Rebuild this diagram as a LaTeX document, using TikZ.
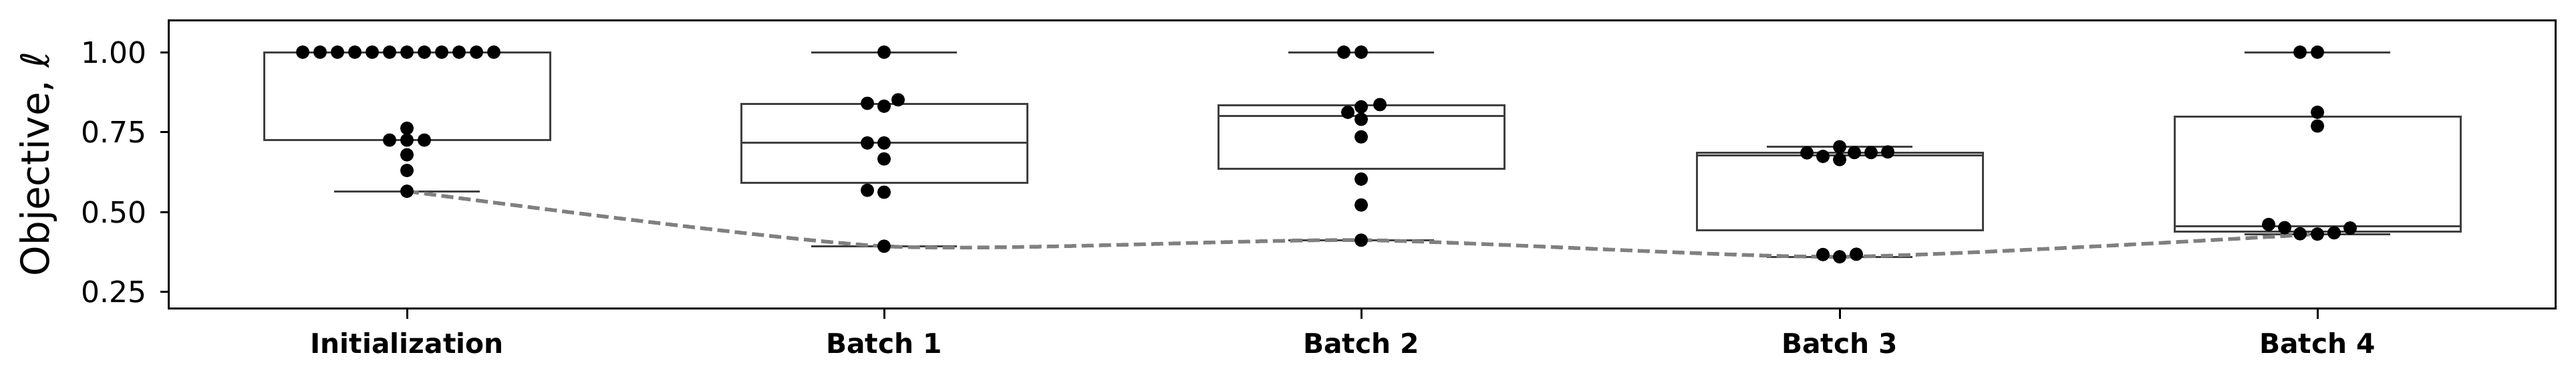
\documentclass[tikz,border=0pt]{standalone}
\usepackage{fontspec}
\setmainfont{DejaVu Sans}
\usepackage{tikz}
\definecolor{boxgray}{HTML}{3F3F3F}
\definecolor{dashgray}{HTML}{808080}
\newcommand{\drawbox}[6]{% x, lower whisker, q1, median, q3, upper whisker
  \draw[boxline,fill=white] (#1-214,#3) rectangle (#1+214,#5);
  \draw[boxline] (#1-214,#4) -- (#1+214,#4);
  \draw[boxline] (#1-109,#2) -- (#1+109,#2);
  \draw[boxline] (#1-109,#6) -- (#1+109,#6);
}
\begin{document}
\begin{tikzpicture}[x=0.01cm,y=4.78cm]
	\tikzstyle{boxline}=[draw=boxgray,line width=0.03cm]
	\tikzstyle{frame}=[draw=black,line width=0.03cm]
	\tikzstyle{trend}=[draw=dashgray,line width=0.055cm,dash pattern=on 0.18cm off 0.08cm]
	\tikzstyle{ticklabel}=[font=\fontsize{12.5}{14}\selectfont,anchor=east,inner sep=0pt]
	\tikzstyle{catlabel}=[font=\fontsize{11.6}{13}\selectfont\bfseries,inner sep=0pt]
	\useasboundingbox (0,-0.00837) rectangle (3855,1.16318);
	
	% boxes
	\drawbox{609}{0.565}{0.726}{1.0}{1.0}{1.0}
	\drawbox{1323}{0.393}{0.592}{0.716}{0.838}{1.0}
	\drawbox{2037}{0.412}{0.636}{0.801}{0.834}{1.0}
	\drawbox{2753}{0.360}{0.442}{0.678}{0.686}{0.704}
	\drawbox{3468}{0.431}{0.438}{0.456}{0.799}{1.0}
	
	% best so far
	\draw[trend] plot[smooth,tension=0.4] coordinates {(609,0.565) (1323,0.393) (2037,0.412) (2753,0.360) (3468,0.431)};
	
	% points
	\foreach \dx/\v in {-156/1,-130/1,-104/1,-78/1,-52/1,-26/1,0/1,26/1,52/1,78/1,104/1,130/1,
		0/0.762,-26/0.725,0/0.725,26/0.725,0/0.679,0/0.630,0/0.565}
		\fill (609+\dx,\v) circle[radius=0.1cm];
	\foreach \dx/\v in {0/1,21/0.851,-25/0.840,0/0.831,-25/0.716,0/0.716,0/0.666,-25/0.568,0/0.562,0/0.393}
		\fill (1323+\dx,\v) circle[radius=0.1cm];
	\foreach \dx/\v in {-26/1,0/1,28/0.836,0/0.829,-20/0.812,0/0.790,0/0.735,0/0.603,0/0.522,0/0.412}
		\fill (2037+\dx,\v) circle[radius=0.1cm];
	\foreach \dx/\v in {0/0.704,-49/0.685,-25/0.674,0/0.664,22/0.686,47/0.686,72/0.688,-25/0.367,0/0.360,25/0.368}
		\fill (2753+\dx,\v) circle[radius=0.1cm];
	\foreach \dx/\v in {-26/1,0/1,0/0.812,0/0.769,-73/0.461,-49/0.451,-26/0.432,0/0.431,25/0.435,49/0.450}
		\fill (3468+\dx,\v) circle[radius=0.1cm];
	
	% axes
	\draw[frame] (252,0.1987) rectangle (3824,1.1004);
	\foreach \v/\t in {1/1.00,0.75/0.75,0.5/0.50,0.25/0.25} {
		\draw[frame] (252,\v) -- (240,\v);
		\node[ticklabel] (tick\t) at (220,\v) {\t};
	}
	\foreach \x/\n/\t in {609/init/Initialization,1323/b1/Batch 1,2037/b2/Batch 2,2753/b3/Batch 3,3468/b4/Batch 4} {
		\draw[frame] (\x,0.1987) -- (\x,0.166);
		\node[catlabel] (\n) at (\x,0.09) {\t};
	}
	\node[rotate=90,font=\fontsize{16.5}{18}\selectfont,inner sep=0pt] (ylabel) at (57,0.65) {Objective, \textit{ℓ}};
\end{tikzpicture}
\end{document}
